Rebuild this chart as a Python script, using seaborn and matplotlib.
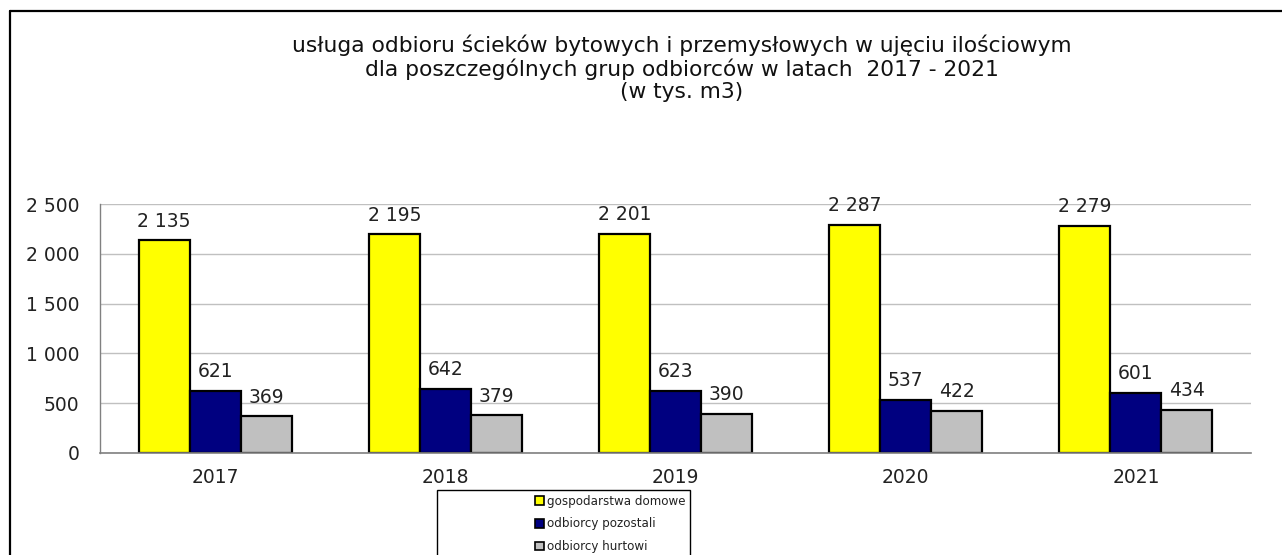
import matplotlib
matplotlib.use("Agg")
import matplotlib.pyplot as plt
import seaborn as sns
import pandas as pd
from matplotlib.patches import Rectangle, Patch
from matplotlib.lines import Line2D
from matplotlib.ticker import FuncFormatter, FixedLocator

years = ["2017", "2018", "2019", "2020", "2021"]
groups = ["gospodarstwa domowe", "odbiorcy pozostali", "odbiorcy hurtowi"]
gospodarstwa = [2135, 2195, 2201, 2287, 2279]
pozostali = [621, 642, 623, 537, 601]
hurtowi = [369, 379, 390, 422, 434]
colors = ["#FFFF00", "#000080", "#C0C0C0"]
yticks = [0, 500, 1000, 1500, 2000, 2500]
title = ("usługa odbioru ścieków bytowych i przemysłowych w ujęciu ilościowym\n"
         "dla poszczególnych grup odbiorców w latach  2017 - 2021\n"
         "(w tys. m3)")

sns.set_style("white")
plt.rcParams["font.family"] = ["DejaVu Sans"]

rows = []
for g, vals in zip(groups, [gospodarstwa, pozostali, hurtowi]):
    for y, v in zip(years, vals):
        rows.append({"rok": y, "grupa": g, "wartosc": v})
df = pd.DataFrame(rows)

W, H = 1282, 555
fig = plt.figure(figsize=(W / 100, H / 100), dpi=100)
ax = fig.add_axes([100 / W, 1 - 453 / H, 1151 / W, 249 / H])

sns.barplot(data=df, x="rok", y="wartosc", hue="grupa", palette=colors,
            width=0.665, saturation=1, edgecolor="black", linewidth=1.6,
            errorbar=None, legend=False, ax=ax)

ax.set_xlim(-0.5, 4.5)
ax.set_ylim(0, 2500)
ax.set_xlabel("")
ax.set_ylabel("")
ax.yaxis.set_major_locator(FixedLocator(yticks))
ax.yaxis.set_major_formatter(FuncFormatter(lambda v, p: f"{int(v):,}".replace(",", " ")))
ax.grid(axis="y", color="#C0C0C0", linewidth=1)
ax.set_axisbelow(True)
for s in ["top", "right"]:
    ax.spines[s].set_visible(False)
ax.spines["left"].set_color("#808080")
ax.spines["bottom"].set_color("#808080")
ax.spines["left"].set_linewidth(1)
ax.spines["bottom"].set_linewidth(1.2)

ax.set_xticks(range(len(years)))
ax.set_xticklabels(years)
ax.set_xticks([i - 0.5 for i in range(len(years) + 1)], minor=True)
ax.tick_params(axis="x", which="major", length=0, pad=11, labelsize=13.5, labelcolor="#222222")
ax.tick_params(axis="x", which="minor", length=6, direction="out", color="#808080", width=1.2)
ax.tick_params(axis="y", which="major", length=7, direction="out", color="#808080", width=1,
               pad=8, labelsize=13.5, labelcolor="#222222")

for cont in ax.containers:
    for bar in cont:
        h = bar.get_height()
        ax.annotate(f"{int(h):,}".replace(",", " "),
                    (bar.get_x() + bar.get_width() / 2, h),
                    xytext=(0, 7), textcoords="offset points",
                    ha="center", va="bottom", fontsize=13.5, color="#222222")

fig.text(682 / W, 1 - 35 / H, title, ha="center", va="top", fontsize=15.7,
         linespacing=1.13, color="#111111")

# outer frame (left and top edges visible)
fig.add_artist(Line2D([10 / W, 10 / W], [-0.02, 1 - 11 / H], color="black", linewidth=1.6,
                      transform=fig.transFigure))
fig.add_artist(Line2D([10 / W, 1.02], [1 - 11 / H, 1 - 11 / H], color="black", linewidth=1.6,
                      transform=fig.transFigure))

# legend box
fig.add_artist(Rectangle((437 / W, -0.1), 253 / W, 1 - 490 / H + 0.1, transform=fig.transFigure,
                         facecolor="white", edgecolor="black", linewidth=1))
handles = [Patch(facecolor=c, edgecolor="black", linewidth=1.2) for c in colors]
fig.legend(handles, groups, loc="upper left", bbox_to_anchor=(525 / W, 1 - 485 / H),
           frameon=False, fontsize=8.6, handlelength=0.75, handleheight=0.75,
           handletextpad=0.3, labelspacing=0.82, borderpad=0.3, labelcolor="#222222")

fig.savefig("out.png", dpi=100)
